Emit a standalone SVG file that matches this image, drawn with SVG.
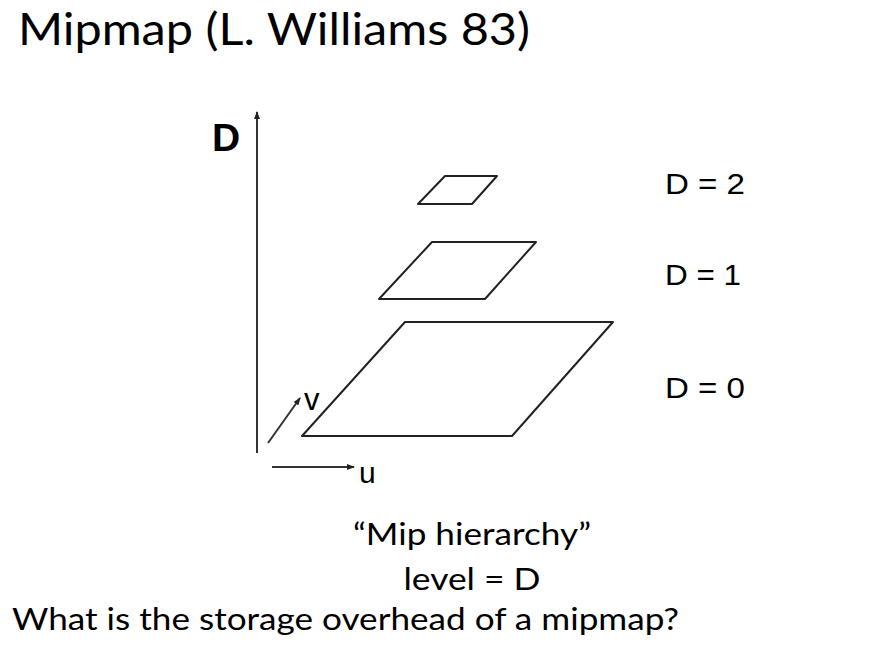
<svg xmlns="http://www.w3.org/2000/svg" width="870" height="646" viewBox="0 0 870 646">
<defs>
<marker id="ah" markerWidth="8" markerHeight="6" refX="7" refY="3" orient="auto" markerUnits="userSpaceOnUse">
<path d="M0,0 L8,3 L0,6 Z" fill="#222"/>
</marker>
<style>
.t{font-family:"Lato","Liberation Sans",sans-serif;fill:#000}
.a{font-family:"Liberation Sans","Arial",sans-serif;fill:#000}
.ax{stroke:#333;stroke-width:2;fill:none}
.pg{stroke:#222;stroke-width:2;fill:none;stroke-linejoin:round}
</style>
</defs>
<rect width="870" height="646" fill="#fff"/>
<text class="t" x="18" y="45" font-size="44" textLength="512" lengthAdjust="spacingAndGlyphs">Mipmap (L. Williams 83)</text>
<g id="connectors">
<line class="ax" x1="257" y1="453" x2="257" y2="112" marker-end="url(#ah)"/>
<line class="ax" x1="272" y1="467" x2="354" y2="467" marker-end="url(#ah)"/>
<line class="ax" x1="268" y1="443" x2="300" y2="398" marker-end="url(#ah)"/>
</g>
<text class="a" x="212" y="151" font-size="39" font-weight="bold">D</text>
<text class="a" x="304" y="410" font-size="31">v</text>
<text class="a" x="359" y="483" font-size="30">u</text>
<g id="level2"><polygon class="pg" points="418,204 445,176 497,176 472,204"/></g>
<g id="level1"><polygon class="pg" points="379,299 432,242 536,242 485,299"/></g>
<g id="level0"><polygon class="pg" points="302,436 405,322 613,322 512,436"/></g>
<text class="a" x="665" y="194" font-size="29" textLength="80" lengthAdjust="spacingAndGlyphs">D = 2</text>
<text class="a" x="665" y="285" font-size="29" textLength="76" lengthAdjust="spacingAndGlyphs">D = 1</text>
<text class="a" x="665" y="398" font-size="29" textLength="80" lengthAdjust="spacingAndGlyphs">D = 0</text>
<text class="t" x="472" y="545" font-size="31" text-anchor="middle" textLength="238" lengthAdjust="spacingAndGlyphs">“Mip hierarchy”</text>
<text class="t" x="472" y="590" font-size="31" text-anchor="middle" textLength="137" lengthAdjust="spacingAndGlyphs">level = D</text>
<text class="t" x="12" y="630" font-size="31" textLength="667" lengthAdjust="spacingAndGlyphs">What is the storage overhead of a mipmap?</text>
</svg>
